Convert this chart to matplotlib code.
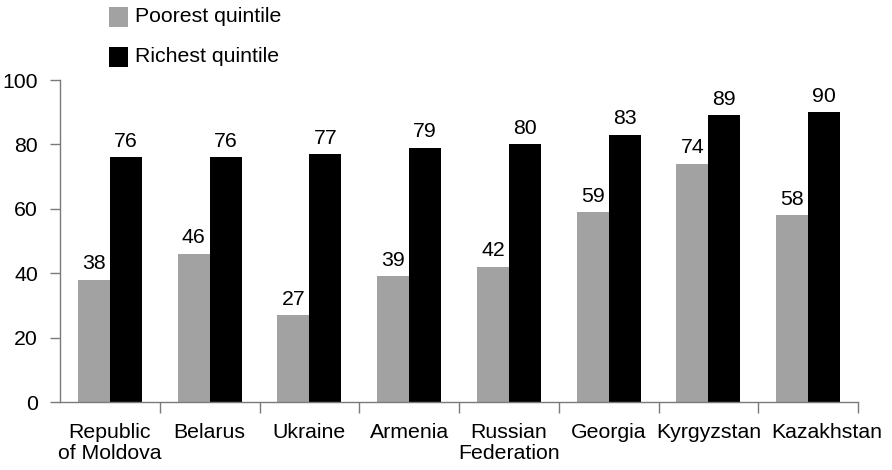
import matplotlib
matplotlib.use("Agg")
import matplotlib.pyplot as plt
import matplotlib.transforms as mtransforms
import numpy as np
from matplotlib.patches import Rectangle

countries = ["Republic\nof Moldova", "Belarus", "Ukraine", "Armenia",
             "Russian\nFederation", "Georgia", "Kyrgyzstan", "Kazakhstan"]
poorest = [38, 46, 27, 39, 42, 59, 74, 58]
richest = [76, 76, 77, 79, 80, 83, 89, 90]
series_names = ["Poorest quintile", "Richest quintile"]
yticks = [0, 20, 40, 60, 80, 100]

plt.rcParams["font.family"] = ["Liberation Sans", "DejaVu Sans"]
FS = 15.3
GREY = "#a2a2a2"
AXIS = "#7a7a7a"

fig = plt.figure(figsize=(8.92, 4.70), dpi=100)
ax = fig.add_axes([60 / 892, 1 - 402 / 470, 798 / 892, 322 / 470])

x = np.arange(len(countries))
w = 0.32
b1 = ax.bar(x - w / 2, poorest, w, color=GREY, linewidth=0)
b2 = ax.bar(x + w / 2, richest, w, color="black", linewidth=0)

for bars, vals in ((b1, poorest), (b2, richest)):
    for r, v in zip(bars, vals):
        ax.text(r.get_x() + r.get_width() / 2, v + 2.0, f"{v}",
                ha="center", va="bottom", fontsize=FS)

ax.set_xlim(-0.5, len(countries) - 0.5)
ax.set_ylim(0, 100)
ax.set_yticks(yticks)
ax.tick_params(axis="y", labelsize=FS, length=7, color=AXIS, width=1, pad=9)
ax.set_xticks(x)
ax.set_xticklabels(countries, fontsize=FS, linespacing=1.15)
ax.tick_params(axis="x", which="major", length=0, pad=15)
ax.set_xticks(np.arange(len(countries)) + 0.5, minor=True)
ax.tick_params(axis="x", which="minor", length=8, color=AXIS, width=1)

# last label sits a little to the right so it clears its neighbour
last = ax.get_xticklabels()[-1]
last.set_transform(last.get_transform() +
                   mtransforms.ScaledTranslation(13.5 / 72, 0, fig.dpi_scale_trans))

for s in ("top", "right"):
    ax.spines[s].set_visible(False)
for s in ("left", "bottom"):
    ax.spines[s].set_color(AXIS)
    ax.spines[s].set_linewidth(1)

# legend drawn as figure-level squares with labels
for i, (name, col) in enumerate(zip(series_names, [GREY, "black"])):
    yc = 1 - (17 + 40 * i) / 470
    fig.patches.append(Rectangle((109 / 892, yc - 10 / 470), 19 / 892, 20 / 470,
                                 transform=fig.transFigure, facecolor=col,
                                 edgecolor="none"))
    fig.text(135 / 892, yc + 1 / 470, name, fontsize=FS, va="center", ha="left")

fig.savefig("out.png", dpi=100, facecolor="white")
